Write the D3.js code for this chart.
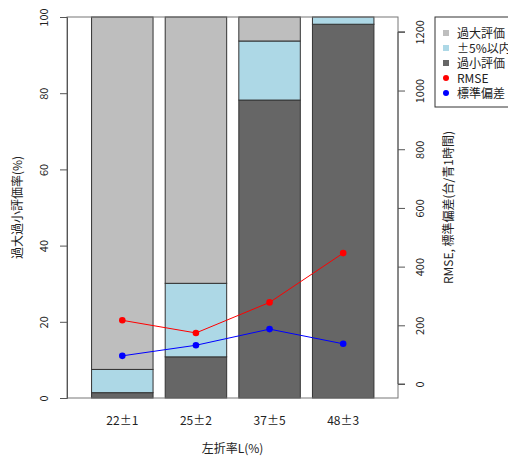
<!DOCTYPE html>
<html>
<head>
<meta charset="utf-8">
<script src="https://cdn.jsdelivr.net/npm/d3@7"></script>
<style>
  body { margin: 0; background: #fff; }
  text { font-family: "Noto Sans CJK JP", "DejaVu Sans", sans-serif; fill: #222; }
</style>
</head>
<body>
<main></main>
<script>
// Data
const categories = ["22±1", "25±2", "37±5", "48±3"];
const under = [1.4, 10.8, 78.2, 98.1];
const within = [6.1, 19.3, 15.5, 1.9];
const over = [92.5, 69.9, 6.3, 0];
const rmse = [217, 174, 278, 446];
const sd = [96, 132, 187, 137];
const leftTicks = [0, 20, 40, 60, 80, 100];
const rightTicks = [0, 200, 400, 600, 800, 1000, 1200];

// Dimensions
const w = 508;
const h = 458;
const plotLeft = 67;
const plotRight = 398;
const plotTop = 17;
const plotBottom = 398;

const svg = d3
  .select("main")
  .append("svg")
  .attr("width", w)
  .attr("height", h);

// Scales
const xScale = d3
  .scaleBand()
  .domain(categories)
  .range([85.5, 380])
  .paddingInner(0.165)
  .paddingOuter(0.0825);

const yScale = d3.scaleLinear().domain([0, 100]).range([plotBottom, plotTop]);
const y2Scale = d3.scaleLinear().domain([-47.7, 1250.6]).range([plotBottom, plotTop]);

// Stacked bars
const layers = [
  { vals: under, color: "#666666" },
  { vals: within, color: "#add8e6" },
  { vals: over, color: "#bebebe" },
];
const base = categories.map(() => 0);
layers.forEach((layer) => {
  svg
    .append("g")
    .selectAll("rect")
    .data(categories)
    .enter()
    .append("rect")
    .attr("x", (d) => xScale(d))
    .attr("width", xScale.bandwidth())
    .attr("y", (d, i) => yScale(base[i] + layer.vals[i]))
    .attr("height", (d, i) => yScale(base[i]) - yScale(base[i] + layer.vals[i]))
    .attr("fill", layer.color)
    .attr("stroke", "#333")
    .attr("stroke-width", 1);
  layer.vals.forEach((v, i) => (base[i] += v));
});

// Box
svg
  .append("rect")
  .attr("x", plotLeft)
  .attr("y", plotTop)
  .attr("width", plotRight - plotLeft)
  .attr("height", plotBottom - plotTop)
  .attr("fill", "none")
  .attr("stroke", "#777");

// Left axis
const yAxis = d3.axisLeft(yScale).tickValues(leftTicks).tickSize(7).tickPadding(4);
const gy = svg.append("g").attr("transform", `translate(${plotLeft}, 0)`).call(yAxis);
gy.select(".domain").attr("stroke", "#555");
gy.selectAll(".tick line").attr("stroke", "#555");
gy.selectAll(".tick text")
  .attr("font-size", 11)
  .attr("fill", "#222")
  .attr("x", null)
  .attr("dy", null)
  .attr("text-anchor", "middle")
  .attr("transform", "translate(-19, 0) rotate(-90)")
  .attr("y", 0);

// Right axis
const y2Axis = d3
  .axisRight(y2Scale)
  .tickValues(rightTicks)
  .tickFormat(d3.format("d"))
  .tickSize(7)
  .tickPadding(4);
const gy2 = svg.append("g").attr("transform", `translate(${plotRight}, 0)`).call(y2Axis);
gy2.select(".domain").attr("stroke", "#555").attr("d", `M7,${y2Scale(0)}H0V${y2Scale(1200)}H7`);
gy2.selectAll(".tick line").attr("stroke", "#555");
gy2.selectAll(".tick text")
  .attr("font-size", 11)
  .attr("fill", "#222")
  .attr("x", null)
  .attr("dy", null)
  .attr("text-anchor", "middle")
  .attr("transform", "translate(26, 0) rotate(-90)")
  .attr("y", 0);

// X tick labels
svg
  .append("g")
  .selectAll("text")
  .data(categories)
  .enter()
  .append("text")
  .attr("x", (d) => xScale(d) + xScale.bandwidth() / 2)
  .attr("y", 425)
  .attr("text-anchor", "middle")
  .attr("font-size", 12)
  .text((d) => d);

// Axis titles
svg
  .append("text")
  .attr("x", (plotLeft + plotRight) / 2)
  .attr("y", 453)
  .attr("text-anchor", "middle")
  .attr("font-size", 12)
  .text("左折率L(%)");

svg
  .append("text")
  .attr("transform", `translate(22, ${(plotTop + plotBottom) / 2}) rotate(-90)`)
  .attr("text-anchor", "middle")
  .attr("font-size", 12)
  .text("過大過小評価率(%)");

svg
  .append("text")
  .attr("transform", `translate(453, ${(plotTop + plotBottom) / 2}) rotate(-90)`)
  .attr("text-anchor", "middle")
  .attr("font-size", 12)
  .text("RMSE, 標準偏差(台/青1時間)");

// Lines
const cx = (d) => xScale(d) + xScale.bandwidth() / 2;
[
  { vals: rmse, color: "red" },
  { vals: sd, color: "blue" },
].forEach((s) => {
  const line = d3
    .line()
    .x((d, i) => cx(categories[i]))
    .y((d) => y2Scale(d));
  svg
    .append("path")
    .datum(s.vals)
    .attr("d", line)
    .attr("fill", "none")
    .attr("stroke", s.color)
    .attr("stroke-width", 1);
  svg
    .append("g")
    .selectAll("circle")
    .data(s.vals)
    .enter()
    .append("circle")
    .attr("cx", (d, i) => cx(categories[i]))
    .attr("cy", (d) => y2Scale(d))
    .attr("r", 3.3)
    .attr("fill", s.color);
});

// Legend
const legendItems = [
  { label: "過大評価", color: "#bebebe", shape: "square" },
  { label: "±5%以内", color: "#add8e6", shape: "square" },
  { label: "過小評価", color: "#666666", shape: "square" },
  { label: "RMSE", color: "red", shape: "circle" },
  { label: "標準偏差", color: "blue", shape: "circle" },
];
const legend = svg.append("g").attr("transform", "translate(435, 17)");
legend
  .append("rect")
  .attr("width", 90)
  .attr("height", 90)
  .attr("fill", "#fff")
  .attr("stroke", "#333");
legendItems.forEach((item, i) => {
  const yy = 16 + i * 15;
  if (item.shape === "square") {
    legend
      .append("rect")
      .attr("x", 8)
      .attr("y", yy - 3)
      .attr("width", 6)
      .attr("height", 6)
      .attr("fill", item.color);
  } else {
    legend
      .append("circle")
      .attr("cx", 11)
      .attr("cy", yy)
      .attr("r", 3)
      .attr("fill", item.color);
  }
  legend
    .append("text")
    .attr("x", 22)
    .attr("y", yy + 4.5)
    .attr("font-size", 12)
    .text(item.label);
});
</script>
</body>
</html>
